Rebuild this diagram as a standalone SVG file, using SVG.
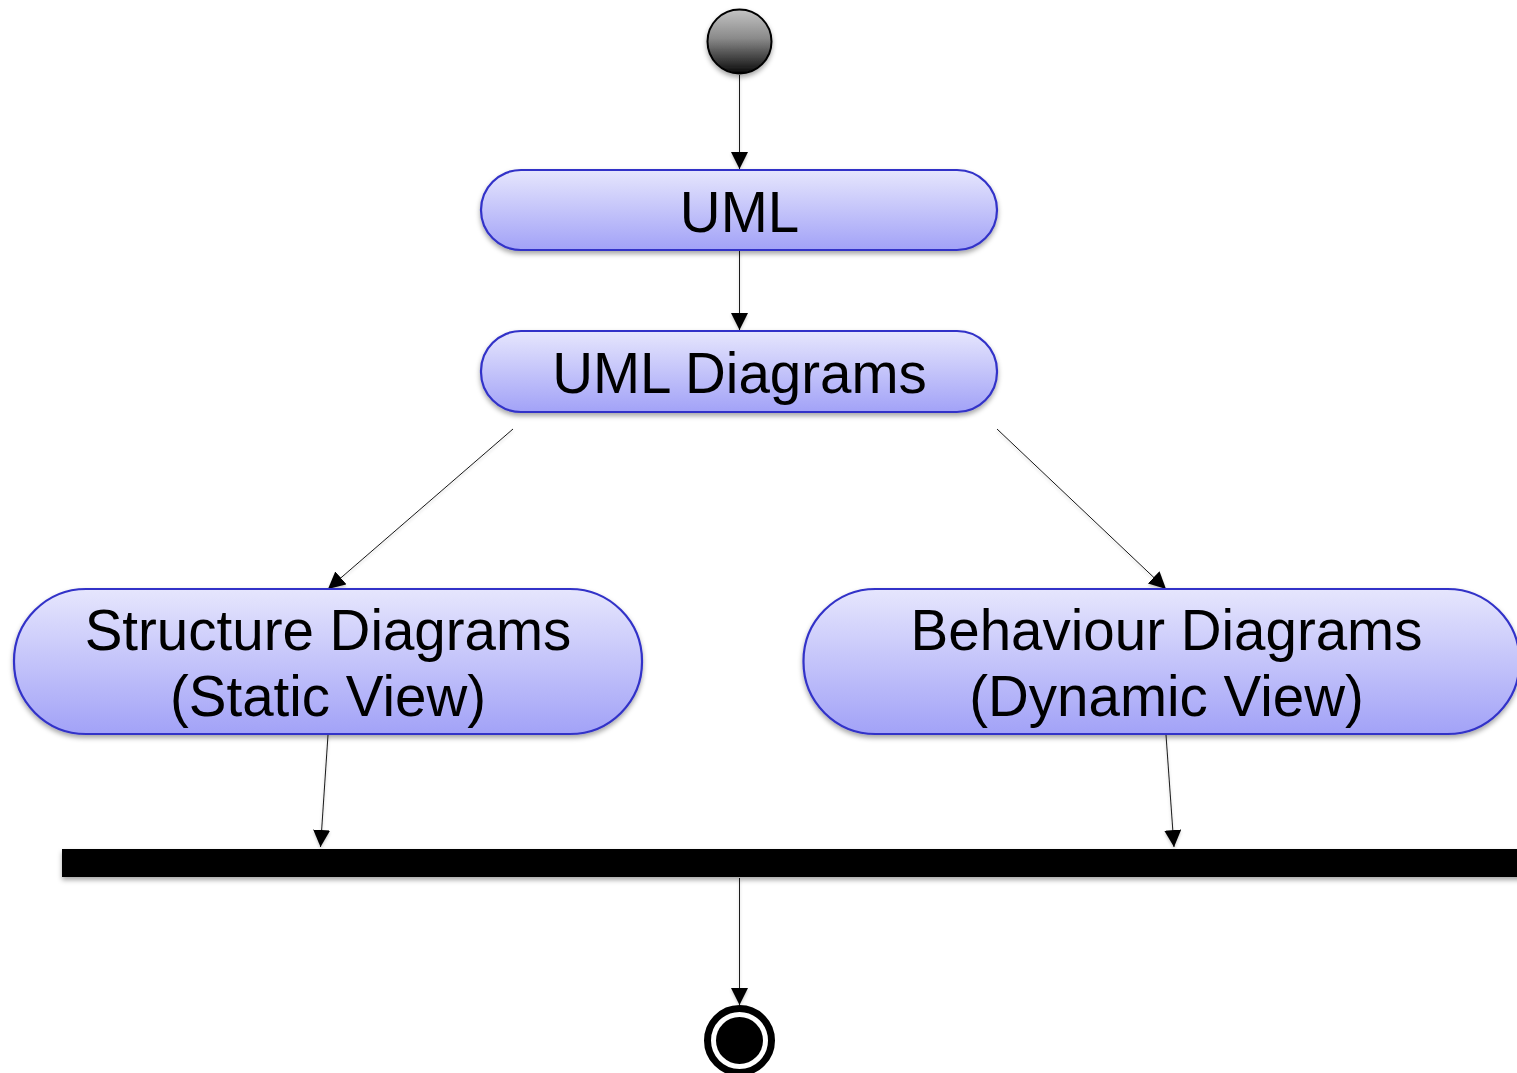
<svg xmlns="http://www.w3.org/2000/svg" width="1517" height="1073" viewBox="0 0 1517 1073">
  <style>
    .action { stroke: #3232c8; stroke-width: 2.2; fill: url(#actionFill); filter: url(#shadow); }
    .label { font-family: "Liberation Sans", Arial, Helvetica, sans-serif; font-size: 56.5px; fill: #000; text-anchor: middle; }
    .flow { stroke: #1a1a1a; stroke-width: 1; fill: none; marker-end: url(#arrow); }
  </style>
  <defs>
    <linearGradient id="actionFill" x1="0" y1="0" x2="0" y2="1">
      <stop offset="0" stop-color="#e6e6fd"/>
      <stop offset="1" stop-color="#a2a2f7"/>
    </linearGradient>
    <linearGradient id="startFill" x1="0" y1="0" x2="0" y2="1">
      <stop offset="0" stop-color="#c4c4c4"/>
      <stop offset="0.45" stop-color="#8a8a8a"/>
      <stop offset="1" stop-color="#0a0a0a"/>
    </linearGradient>
    <filter id="shadow" x="-10%" y="-20%" width="120%" height="150%">
      <feDropShadow dx="0" dy="3" stdDeviation="2.5" flood-color="#000" flood-opacity="0.35"/>
    </filter>
    <filter id="lineShadow" x="-10%" y="-10%" width="120%" height="120%">
      <feDropShadow dx="0" dy="2" stdDeviation="1.5" flood-color="#000" flood-opacity="0.2"/>
    </filter>
    <marker id="arrow" viewBox="0 0 17 17" refX="17" refY="8.5" markerWidth="17" markerHeight="17" markerUnits="userSpaceOnUse" orient="auto">
      <path d="M0,0 L17,8.5 L0,17 Z" fill="#000"/>
    </marker>
  </defs>

  <rect width="1517" height="1073" fill="#fff"/>

  <!-- connectors -->
  <g id="connectors" filter="url(#lineShadow)">
    <line class="flow" x1="739.5" y1="75" x2="739.5" y2="169"/>
    <line class="flow" x1="739.5" y1="251" x2="739.5" y2="330"/>
    <line class="flow" x1="513" y1="429" x2="328" y2="589"/>
    <line class="flow" x1="997" y1="429" x2="1166" y2="589"/>
    <line class="flow" x1="328" y1="735" x2="320.5" y2="847"/>
    <line class="flow" x1="1166" y1="735" x2="1174" y2="847"/>
    <line class="flow" x1="739.5" y1="878" x2="739.5" y2="1005"/>
  </g>

  <!-- initial node -->
  <g id="start">
    <circle cx="739.5" cy="41.5" r="32" fill="url(#startFill)" stroke="#000" stroke-width="2" filter="url(#shadow)"/>
  </g>

  <!-- actions -->
  <g id="uml">
    <rect class="action" x="481" y="170" width="516" height="80" rx="40" ry="40"/>
    <text class="label" x="739.5" y="232">UML</text>
  </g>

  <g id="uml-diagrams">
    <rect class="action" x="481" y="331" width="516" height="81" rx="40" ry="40"/>
    <text class="label" x="739.5" y="393">UML Diagrams</text>
  </g>

  <g id="structure-diagrams">
    <rect class="action" x="14" y="589" width="628" height="145" rx="72" ry="72"/>
    <text class="label" x="328" y="650">Structure Diagrams</text>
    <text class="label" x="328" y="716">(Static View)</text>
  </g>

  <g id="behaviour-diagrams">
    <rect class="action" x="803.5" y="589" width="716" height="145" rx="72" ry="72"/>
    <text class="label" x="1166.5" y="650">Behaviour Diagrams</text>
    <text class="label" x="1166.5" y="716">(Dynamic View)</text>
  </g>

  <!-- join bar -->
  <g id="join">
    <rect x="62" y="849" width="1470" height="28" fill="#000" filter="url(#shadow)"/>
  </g>

  <!-- final node -->
  <g id="end">
    <circle cx="739.5" cy="1040.5" r="32" fill="#fff" stroke="#000" stroke-width="7"/>
    <circle cx="739.5" cy="1040.5" r="23.5" fill="#000"/>
  </g>
</svg>
